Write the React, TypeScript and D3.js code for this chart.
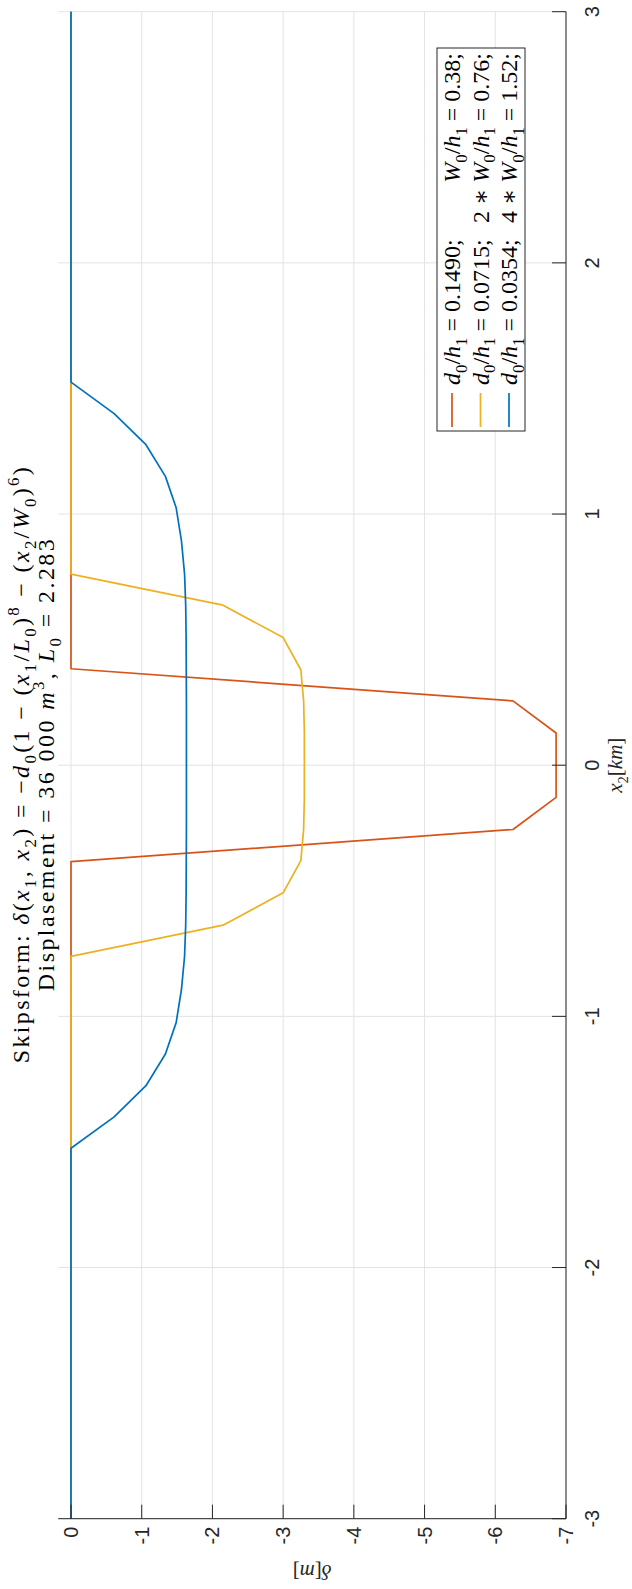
import * as d3 from 'd3'
import React from 'react'

// Tick values
const x2Ticks = [-3, -2, -1, 0, 1, 2, 3]
const deltaTicks = [0, -1, -2, -3, -4, -5, -6, -7]

// d0/h1 = 0.1490, W0/h1 = 0.38
const redX2 = [-3, -0.384, -0.256, -0.128, 0.128, 0.256, 0.384, 3]
const redDelta = [0, 0, -6.25, -6.86, -6.86, -6.25, 0, 0]

// d0/h1 = 0.0715, 2*W0/h1 = 0.76
const yellowX2 = [-3, -0.761, -0.637, -0.508, -0.38, -0.255, -0.128, 0.128, 0.255, 0.38, 0.508, 0.637, 0.761, 3]
const yellowDelta = [0, 0, -2.15, -3.0, -3.25, -3.29, -3.3, -3.3, -3.29, -3.25, -3.0, -2.15, 0, 0]

// d0/h1 = 0.0354, 4*W0/h1 = 1.52
const blueX2 = [-3, -1.525, -1.4, -1.276, -1.15, -1.025, -0.893, -0.761, -0.637, -0.508, -0.38, -0.255, -0.128,
  0.128, 0.255, 0.38, 0.508, 0.637, 0.761, 0.893, 1.025, 1.15, 1.276, 1.4, 1.525, 3]
const blueDelta = [0, 0, -0.61, -1.06, -1.335, -1.487, -1.562, -1.606, -1.622, -1.628, -1.63, -1.632, -1.632,
  -1.632, -1.632, -1.63, -1.628, -1.622, -1.606, -1.562, -1.487, -1.335, -1.06, -0.61, 0, 0]

const legendD = ['0.1490', '0.0715', '0.0354']
const legendFactor = ['', '2', '4']
const legendW = ['0.38', '0.76', '1.52']

const colors = ['#D95319', '#EDB120', '#0072BD']

const W = 632
const H = 1589
const serif = 'Liberation Serif, DejaVu Serif, Times New Roman, serif'
const sans = 'Liberation Sans, Arial, Helvetica, sans-serif'
const ink = '#262626'

type Seg = [string, string?]

// tiny latex-ish renderer: i = italic, b = subscript, p = superscript
const mathSpans = (segs: Seg[], fs: number) => {
  let off = 0
  return segs.map(([t, s = ''], k) => {
    const target = s.includes('b') ? 0.28 * fs : s.includes('p') ? -0.42 * fs : 0
    const dy = target - off
    off = target
    return (
      <tspan
        key={k}
        dy={dy !== 0 ? dy : undefined}
        style={{
          fontStyle: s.includes('i') ? 'italic' : 'normal',
          fontSize: s.includes('b') || s.includes('p') ? fs * 0.7 : fs
        }}
      >
        {t}
      </tspan>
    )
  })
}

const serifStyle = { fontFamily: serif, whiteSpace: 'pre' as const }

export default function App() {
  // plot drawn in its natural orientation, then the whole thing is turned 90deg
  const x = d3.scaleLinear().domain([-3, 3]).range([70.3, 1577.3])
  const y = d3.scaleLinear().domain([-7, 0]).range([566, 71])
  const yTop = y(0.18)

  const line = d3
    .line<[number, number]>()
    .x(d => x(d[0]))
    .y(d => y(d[1]))

  const series = [
    d3.zip(redX2, redDelta) as [number, number][],
    d3.zip(yellowX2, yellowDelta) as [number, number][],
    d3.zip(blueX2, blueDelta) as [number, number][]
  ]

  const tick = 14
  const titleFs = 24
  const legFs = 24
  const leg = { x0: 1158, x1: 1541, y0: 437, y1: 525 }
  const rowY = [452, 480.5, 509]
  const midX = (x(-3) + x(3)) / 2

  return (
    <svg
      width={W}
      height={H}
      style={{ position: 'absolute', left: 0, top: 0, background: '#fff' }}
    >
      <rect width={W} height={H} fill="#fff" />
      <g transform={`translate(0,${H}) rotate(-90)`}>
        {/* grid */}
        <g stroke="#e3e3e3" strokeWidth={1}>
          {x2Ticks.map(t => (
            <line key={'gx' + t} x1={x(t)} x2={x(t)} y1={yTop} y2={y(-7)} />
          ))}
          {deltaTicks.map(t => (
            <line key={'gy' + t} x1={x(-3)} x2={x(3)} y1={y(t)} y2={y(t)} />
          ))}
        </g>

        {/* curves */}
        {series.map((s, i) => (
          <path key={i} d={line(s) || ''} fill="none" stroke={colors[i]} strokeWidth={1.7} strokeLinejoin="round" />
        ))}

        {/* axes */}
        <g stroke={ink} strokeWidth={1} fill="none">
          <line x1={x(-3)} x2={x(3)} y1={y(-7)} y2={y(-7)} />
          <line x1={x(-3)} x2={x(-3)} y1={yTop} y2={y(-7)} />
          {x2Ticks.map(t => (
            <line key={'tx' + t} x1={x(t)} x2={x(t)} y1={y(-7)} y2={y(-7) - tick} />
          ))}
          {deltaTicks.map(t => (
            <line key={'ty' + t} x1={x(-3)} x2={x(-3) + tick} y1={y(t)} y2={y(t)} />
          ))}
        </g>

        {/* tick labels */}
        <g style={{ fontFamily: sans, fontSize: 20 }} fill={ink}>
          {x2Ticks.map(t => (
            <text key={'lx' + t} x={x(t)} y={599} textAnchor="middle">
              {t}
            </text>
          ))}
          {deltaTicks.map(t => (
            <text key={'ly' + t} x={x(-3) - 8} y={y(t)} dy="0.35em" textAnchor="end">
              {t}
            </text>
          ))}
        </g>

        {/* axis labels */}
        <text x={midX} y={622} textAnchor="middle" fill={ink} style={serifStyle}>
          {mathSpans([['x', 'i'], ['2', 'b'], ['['], ['km', 'i'], [']']], 21)}
        </text>
        <text
          transform={`translate(24,${(yTop + y(-7)) / 2}) rotate(-90)`}
          textAnchor="middle"
          fill={ink}
          style={serifStyle}
        >
          {mathSpans([['δ', 'i'], ['['], ['m', 'i'], [']']], 21)}
        </text>

        {/* title */}
        <text x={midX} y={29} textAnchor="middle" fill="#000" textLength={596} lengthAdjust="spacing" style={serifStyle}>
          {mathSpans(
            [
              ['Skipsform: '], ['δ', 'i'], ['('], ['x', 'i'], ['1', 'b'], [', '], ['x', 'i'], ['2', 'b'], [') = −'],
              ['d', 'i'], ['0', 'b'], ['(1 − ('], ['x', 'i'], ['1', 'b'], ['/'], ['L', 'i'], ['0', 'b'], [')'], ['8', 'p'],
              [' − ('], ['x', 'i'], ['2', 'b'], ['/'], ['W', 'i'], ['0', 'b'], [')'], ['6', 'p'], [')']
            ],
            titleFs
          )}
        </text>
        <text x={midX} y={54} textAnchor="middle" fill="#000" textLength={452} lengthAdjust="spacing" style={serifStyle}>
          {mathSpans(
            [['Displasement = 36 000 '], ['m', 'i'], ['3', 'p'], [', '], ['L', 'i'], ['0', 'b'], [' = 2.283']],
            titleFs
          )}
        </text>

        {/* legend */}
        <rect
          x={leg.x0}
          y={leg.y0}
          width={leg.x1 - leg.x0}
          height={leg.y1 - leg.y0}
          fill="#fff"
          stroke={ink}
          strokeWidth={1}
        />
        {legendD.map((d, i) => (
          <g key={'leg' + i}>
            <line x1={1162} x2={1196} y1={rowY[i]} y2={rowY[i]} stroke={colors[i]} strokeWidth={1.7} />
            <text x={1204} y={rowY[i] + 8} fill="#000" style={serifStyle}>
              {mathSpans([['d', 'i'], ['0', 'b'], ['/'], ['h', 'i'], ['1', 'b'], [' = ' + d + ';']], legFs)}
            </text>
            <text x={1536} y={rowY[i] + 8} textAnchor="end" fill="#000" style={serifStyle}>
              {mathSpans(
                [[legendFactor[i] ? legendFactor[i] + ' ∗ ' : ''], ['W', 'i'], ['0', 'b'], ['/'], ['h', 'i'], ['1', 'b'], [' = ' + legendW[i] + ';']],
                legFs
              )}
            </text>
          </g>
        ))}
      </g>
    </svg>
  )
}
